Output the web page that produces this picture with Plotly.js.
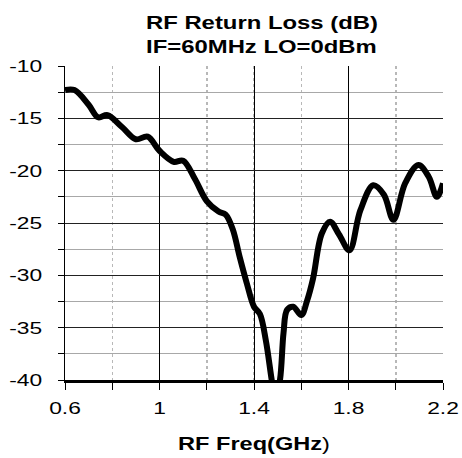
<!DOCTYPE html>
<html><head><meta charset="utf-8">
<script src="https://cdn.plot.ly/plotly-3.0.1.min.js"></script>
<style>html,body{margin:0;padding:0;background:#fff}#chart{width:462px;height:458px}</style>
</head><body><div id="chart"></div>
<script>
const freqGHz = [0.6, 0.64, 0.7, 0.74, 0.78, 0.84, 0.9, 0.95, 1.0, 1.06, 1.1, 1.15, 1.2, 1.25, 1.28, 1.31, 1.34, 1.37, 1.40, 1.425, 1.45, 1.475, 1.49, 1.51, 1.525, 1.54, 1.566, 1.60, 1.625, 1.65, 1.687, 1.722, 1.76, 1.804, 1.85, 1.905, 1.95, 1.99, 2.04, 2.096, 2.14, 2.174, 2.2];
const returnLossDb = [-12.3, -12.3, -13.7, -14.9, -14.7, -15.8, -17.0, -16.75, -18.1, -19.15, -19.05, -20.8, -22.9, -23.9, -24.2, -25.6, -28.3, -30.8, -33.0, -33.7, -36.2, -40.0, -42.0, -40.0, -35.5, -33.3, -33.0, -33.8, -32.4, -30.3, -26.0, -24.87, -26.1, -27.6, -23.8, -21.4, -22.3, -24.7, -21.2, -19.46, -20.6, -22.5, -21.2];
const xTickVals = [0.6, 1, 1.4, 1.8, 2.2];
const xTickText = ['0.6', '1', '1.4', '1.8', '2.2'];
const yTickVals = [-10, -15, -20, -25, -30, -35, -40];
const yTickText = ['-10', '-15', '-20', '-25', '-30', '-35', '-40'];
const titleLines = ['RF Return Loss (dB)', 'IF=60MHz LO=0dBm'];
const xTitle = '<b>RF Freq(GHz</b>)';

const font = '"Liberation Sans", Arial, sans-serif';
const trace = {
  x: freqGHz, y: returnLossDb, type: 'scatter', mode: 'lines',
  line: {color: '#000', width: 6, shape: 'spline', smoothing: 1},
  hoverinfo: 'skip'
};
const layout = {
  width: 462, height: 458,
  margin: {l: 65, r: 19, t: 66, b: 78},
  paper_bgcolor: '#fff', plot_bgcolor: '#fff',
  showlegend: false,
  font: {family: font, color: '#000', size: 17},
  annotations: [
    {text: '<b>' + titleLines[0] + '</b>', xref: 'paper', yref: 'paper', x: 0.521, y: 1.140, xanchor: 'center', yanchor: 'middle', showarrow: false, font: {family: font, size: 18.5, color: '#000'}},
    {text: '<b>' + titleLines[1] + '</b>', xref: 'paper', yref: 'paper', x: 0.521, y: 1.0635, xanchor: 'center', yanchor: 'middle', showarrow: false, font: {family: font, size: 18.5, color: '#000'}}
  ],
  xaxis: {
    range: [0.6, 2.2], tickvals: xTickVals, ticktext: xTickText,
    showgrid: true, gridcolor: '#000', gridwidth: 1,
    ticks: 'outside', ticklen: 7, tickcolor: '#000', tickwidth: 1,
    ticklabelstandoff: 4,
    showline: true, linecolor: '#000', linewidth: 2.5, mirror: false, zeroline: false,
    tickfont: {size: 17, family: font},
    minor: {dtick: 0.2, tick0: 0.6, showgrid: true, gridcolor: '#b8b8b8', griddash: 'dot', gridwidth: 1.5, ticks: 'outside', ticklen: 7, tickcolor: '#000'},
    title: {text: xTitle, font: {size: 19, family: font}, standoff: 20}
  },
  yaxis: {
    range: [-40, -10], tickvals: yTickVals, ticktext: yTickText,
    showgrid: true, gridcolor: '#222', gridwidth: 1,
    ticks: 'outside', ticklen: 6, tickcolor: '#000', tickwidth: 1,
    ticklabelstandoff: 12,
    showline: true, linecolor: '#000', linewidth: 1.5, zeroline: false,
    tickfont: {size: 17, family: font},
    minor: {dtick: 2.5, tick0: -40, showgrid: true, gridcolor: '#a8a8a8', gridwidth: 1, ticks: 'outside', ticklen: 6, tickcolor: '#000'}
  }
};
function stretch(el, f) {
  const len = el.getComputedTextLength();
  if (len > 0) {
    el.setAttribute('textLength', (len * f).toFixed(1));
    el.setAttribute('lengthAdjust', 'spacingAndGlyphs');
  }
}
Plotly.newPlot('chart', [trace], layout, {displayModeBar: false, staticPlot: true}).then(function (gd) {
  gd.querySelectorAll('.xtick text, .ytick text').forEach(function (t) { stretch(t, 1.34); });
  gd.querySelectorAll('.annotation-text').forEach(function (t) { stretch(t, 1.29); });
  gd.querySelectorAll('.xtitle').forEach(function (t) { stretch(t, 1.24); });
});
</script></body></html>
